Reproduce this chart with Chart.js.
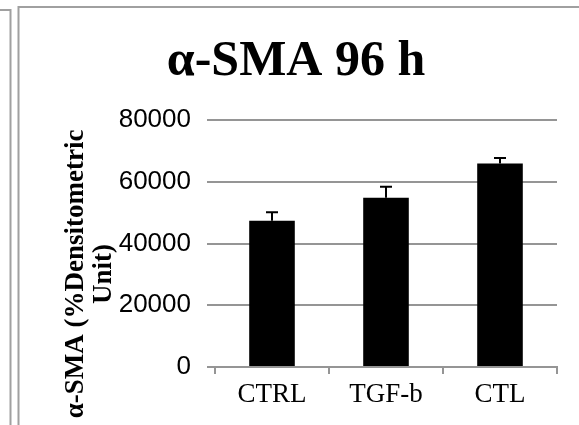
<!DOCTYPE html>
<html>
<head>
<meta charset="utf-8">
<title>α-SMA 96 h</title>
<script src="https://cdn.jsdelivr.net/npm/chart.js@4/dist/chart.umd.min.js"></script>
<style>
  body { margin: 0; background: #fff; }
  canvas { display: block; }
</style>
</head>
<body>
<canvas id="sma_chart" width="579" height="425"></canvas>
<script>
const categories = ["CTRL", "TGF-b", "CTL"];
const means = [47400, 54800, 65900];
const errors = [2700, 3600, 1800];
const yTicks = [0, 20000, 40000, 60000, 80000];

const chartTitle = "α-SMA 96 h";
const yTitleLines = ["α-SMA (%Densitometric", "Unit)"];

const frameGray = "#a0a0a0";
const gridGray = "#959595";

// panel borders behind the chart
const framePlugin = {
    id: "frame",
    beforeDraw(chart) {
        const ctx = chart.ctx;
        ctx.save();
        ctx.strokeStyle = frameGray;
        ctx.lineWidth = 2;
        ctx.beginPath();
        ctx.moveTo(0, 10);
        ctx.lineTo(10.5, 10);
        ctx.lineTo(10.5, 425);
        ctx.moveTo(18.5, 425);
        ctx.lineTo(18.5, 7);
        ctx.lineTo(579, 7);
        ctx.stroke();
        ctx.restore();
    }
};

// title and rotated y axis title
const labelsPlugin = {
    id: "labels",
    afterDraw(chart) {
        const ctx = chart.ctx;
        ctx.save();
        ctx.fillStyle = "#000";
        ctx.font = 'bold 50px "Liberation Serif"';
        ctx.textAlign = "center";
        ctx.textBaseline = "alphabetic";
        ctx.fillText(chartTitle, 296, 75);

        ctx.font = 'bold 27px "Liberation Serif"';
        const baselines = [83, 111];
        yTitleLines.forEach(function (line, i) {
            ctx.save();
            ctx.translate(baselines[i], 274);
            ctx.rotate(-Math.PI / 2);
            ctx.fillText(line, 0, 0);
            ctx.restore();
        });
        ctx.restore();
    }
};

// error bars on top of each bar
const errorBarPlugin = {
    id: "errorBars",
    afterDatasetsDraw(chart) {
        const ctx = chart.ctx;
        const yScale = chart.scales.y;
        const bars = chart.getDatasetMeta(0).data;
        ctx.save();
        ctx.strokeStyle = "#000";
        ctx.lineWidth = 2;
        bars.forEach(function (bar, i) {
            const top = yScale.getPixelForValue(means[i] + errors[i]);
            ctx.beginPath();
            ctx.moveTo(bar.x, bar.y);
            ctx.lineTo(bar.x, top);
            ctx.moveTo(bar.x - 6, top);
            ctx.lineTo(bar.x + 6, top);
            ctx.stroke();
        });
        ctx.restore();
    }
};

new Chart(document.getElementById("sma_chart"), {
    type: "bar",
    data: {
        labels: categories,
        datasets: [{
            data: means,
            backgroundColor: "#000",
            borderWidth: 0,
            barPercentage: 0.4,
            categoryPercentage: 1.0
        }]
    },
    options: {
        responsive: false,
        animation: false,
        layout: {
            padding: { left: 0, right: 22, top: 120, bottom: 0 }
        },
        plugins: {
            legend: { display: false },
            title: { display: false },
            tooltip: { enabled: false }
        },
        scales: {
            x: {
                border: { display: true, color: gridGray, width: 2 },
                grid: {
                    offset: true,
                    drawOnChartArea: false,
                    drawTicks: true,
                    tickLength: 7,
                    color: gridGray,
                    lineWidth: 2
                },
                ticks: {
                    color: "#000",
                    padding: 5,
                    font: { family: "Liberation Serif", size: 27 }
                },
                afterFit(scale) { scale.height = 58; }
            },
            y: {
                min: 0,
                max: 80000,
                border: { display: false },
                grid: {
                    color: gridGray,
                    lineWidth: 2,
                    drawTicks: true,
                    tickLength: 8
                },
                afterBuildTicks(scale) {
                    scale.ticks = yTicks.map(v => ({ value: v }));
                },
                ticks: {
                    color: "#000",
                    padding: 16,
                    font: { family: "Liberation Sans", size: 26 },
                    callback: value => String(value)
                },
                afterFit(scale) { scale.width = 215; }
            }
        }
    },
    plugins: [framePlugin, errorBarPlugin, labelsPlugin]
});
</script>
</body>
</html>
